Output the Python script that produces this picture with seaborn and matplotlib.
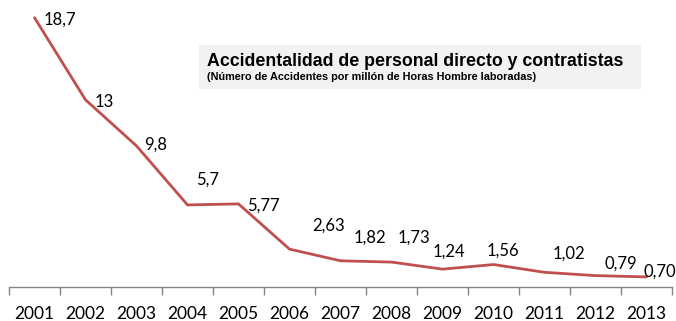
import matplotlib
matplotlib.use("Agg")
import matplotlib.pyplot as plt
from matplotlib.ticker import FixedLocator
from matplotlib.patches import Rectangle
import seaborn as sns
import pandas as pd

# Accident rate per million man-hours worked
years = ["2001", "2002", "2003", "2004", "2005", "2006", "2007",
         "2008", "2009", "2010", "2011", "2012", "2013"]
rates = [18.7, 13, 9.8, 5.7, 5.77, 2.63, 1.82, 1.73, 1.24, 1.56, 1.02, 0.79, 0.70]
rate_labels = ["18,7", "13", "9,8", "5,7", "5,77", "2,63", "1,82",
               "1,73", "1,24", "1,56", "1,02", "0,79", "0,70"]

title = "Accidentalidad de personal directo y contratistas"
subtitle = "(Número de Accidentes por millón de Horas Hombre laboradas)"

# label placement (pixels, relative to each point: left edge x, centre y)
label_dx = [9, 9, 8, 9, 9, 23, 13, 6, -10, -7, 8, 9, -3]
label_dy = [-2, -2, 1, 25, -2, 24, 23, 24, 18, 14, 19, 12, 5]

sns.set_theme(style="white")
plt.rcParams["font.family"] = ["Lato", "DejaVu Sans"]

W, H = 676, 321
fig = plt.figure(figsize=(W / 100, H / 100), dpi=100)
ax_left, ax_right, ax_bottom, ax_top = 9, 672, 287, 0
ax = fig.add_axes([ax_left / W, (H - ax_bottom) / H,
                   (ax_right - ax_left) / W, (ax_bottom - ax_top) / H])

df = pd.DataFrame({"year": years, "rate": rates})
line_color = "#C0504D"
sns.lineplot(data=df, x="year", y="rate", ax=ax, color=line_color,
             linewidth=2.0, sort=False)

ax.set_xlim(-0.5, len(years) - 0.5)
ax.set_ylim(0, 19.93)
ax.set_xlabel("")
ax.set_ylabel("")
ax.set_yticks([])

for s in ["top", "right", "left"]:
    ax.spines[s].set_visible(False)
axis_gray = "#868686"
ax.spines["bottom"].set_color(axis_gray)
ax.spines["bottom"].set_linewidth(1.0)

ax.set_xticks(range(len(years)))
ax.set_xticklabels(years)
ax.xaxis.set_minor_locator(FixedLocator([i - 0.5 for i in range(len(years) + 1)]))
ax.tick_params(axis="x", which="major", length=0, pad=14, labelsize=12.5,
               labelcolor="#000000")
ax.tick_params(axis="x", which="minor", length=6, width=1.0, color=axis_gray,
               direction="out", bottom=True)

for i, (v, lab) in enumerate(zip(rates, rate_labels)):
    ax.annotate(lab, xy=(i, v), xytext=(label_dx[i], label_dy[i]),
                textcoords="offset pixels", ha="left", va="center",
                fontsize=12, color="#000000")

# title box
fig.patches.append(Rectangle((199 / W, (H - 89) / H), (641 - 199) / W, 44 / H,
                             transform=fig.transFigure, facecolor="#F2F2F2",
                             edgecolor="none", zorder=0))
fig.text(207 / W, (H - 61) / H, title, fontsize=12.8, fontweight="bold",
         family=["Liberation Sans", "DejaVu Sans"], ha="left", va="center",
         color="#000000")
fig.text(207 / W, (H - 77) / H, subtitle, fontsize=7.8, fontweight="bold",
         family=["Liberation Sans", "DejaVu Sans"], ha="left", va="center",
         color="#000000")

fig.savefig("out.png", dpi=100)
